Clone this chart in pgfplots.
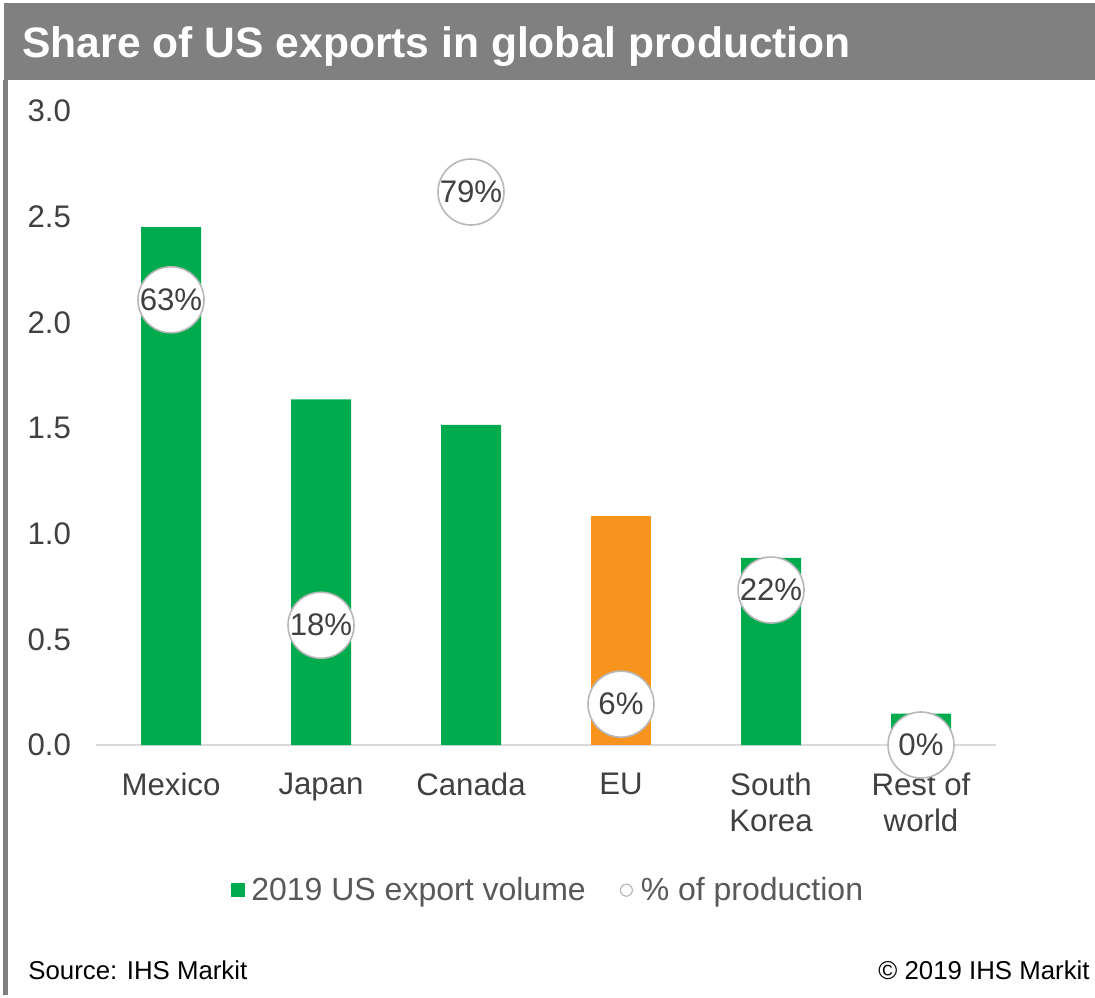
\documentclass[border=0pt]{standalone}
\usepackage{pgfplots}
\pgfplotsset{compat=1.18}
\usepackage{fontspec}
\setmainfont{Liberation Sans}
\definecolor{barGreen}{HTML}{00AB4E}
\definecolor{barOrange}{HTML}{F7941D}
\definecolor{banner}{HTML}{808080}
\definecolor{circgray}{HTML}{B8B8B8}
\definecolor{axisgray}{HTML}{D9D9D9}
\definecolor{textgray}{HTML}{404040}
\definecolor{legendgray}{HTML}{595959}
\newcommand{\mainfont}{\fontsize{15.6}{18}\selectfont}
\begin{document}
\begin{tikzpicture}
\path[use as bounding box, fill=white] (0pt,0pt) rectangle (547.5pt,498.5pt);
\fill[banner] (2pt,458.5pt) rectangle (547.5pt,497pt);
\fill[banner] (1.5pt,1pt) rectangle (3.75pt,458.5pt);
\node[anchor=base west, text=white, inner sep=0pt, font=\fontsize{21.3}{25}\selectfont\bfseries] at (11pt,469.5pt) {Share of US exports in global production};
\node[anchor=base west, text=black, inner sep=0pt, font=\fontsize{12.9}{15}\selectfont] at (14pt,9pt) {Source: IHS Markit};
\node[anchor=base east, text=black, inner sep=0pt, font=\fontsize{12.9}{15}\selectfont] at (545pt,9pt) {© 2019 IHS Markit};

\begin{axis}[
  at={(48pt,126pt)}, anchor=south west,
  scale only axis, width=450pt, height=317pt,
  xmin=-0.5, xmax=5.5, ymin=0, ymax=3,
  axis x line=bottom, axis y line=left,
  y axis line style={draw=none},
  x axis line style={draw=axisgray, line width=1pt, -},
  major tick length=0pt,
  ytick={0,0.5,1,1.5,2,2.5,3},
  /pgf/number format/assume math mode=true,
  yticklabel={\pgfmathprintnumber[fixed,fixed zerofill,precision=1]{\tick}},
  yticklabel style={font=\mainfont, text=textgray, xshift=-9pt},
  xtick={0,1,2,3,4,5},
  xticklabels={Mexico,Japan,Canada,EU,South\\Korea,Rest of\\world},
  xticklabel style={font=\mainfont, text=textgray, align=center, yshift=-10.5pt},
  legend style={at={(0.5036,-0.229)}, anchor=center, draw=none, fill=none,
    legend columns=2, font=\fontsize{16}{18}\selectfont, text=legendgray,
    /tikz/every even column/.append style={column sep=15pt}},
  legend cell align=left,
]
\addplot[ybar, bar width=30pt, bar shift=0pt, fill=barGreen, draw=none,
  legend image code/.code={\fill[barGreen] (-3.5pt,-3.5pt) rectangle (3.5pt,3.5pt);\path (4.5pt,0pt);}]
  coordinates {(0,2.45) (1,1.635) (2,1.515) (4,0.885) (5,0.148)};
\addlegendentry{2019 US export volume}
\addplot[ybar, bar width=30pt, bar shift=0pt, fill=barOrange, draw=none, forget plot]
  coordinates {(3,1.085)};
\addlegendimage{legend image code/.code={\draw[circgray, fill=white, line width=0.6pt] (0,0) circle (3pt);\path (5pt,0pt);}}
\addlegendentry{\% of production}
\end{axis}

\begin{axis}[
  at={(48pt,126pt)}, anchor=south west,
  scale only axis, width=450pt, height=317pt,
  xmin=-0.5, xmax=5.5, ymin=0, ymax=90,
  hide axis, clip=false,
]
\addplot[only marks, mark=*, mark size=16.5pt,
  mark options={fill=white, draw=circgray, line width=0.8pt},
  nodes near coords, point meta=explicit symbolic,
  nodes near coords style={anchor=center, font=\mainfont, text=textgray}]
  coordinates {(0,63.2) [63\%] (1,17.0) [18\%] (2,78.5) [79\%] (3,5.8) [6\%] (4,22.0) [22\%] (5,0) [0\%]};
\end{axis}
\end{tikzpicture}
\end{document}
